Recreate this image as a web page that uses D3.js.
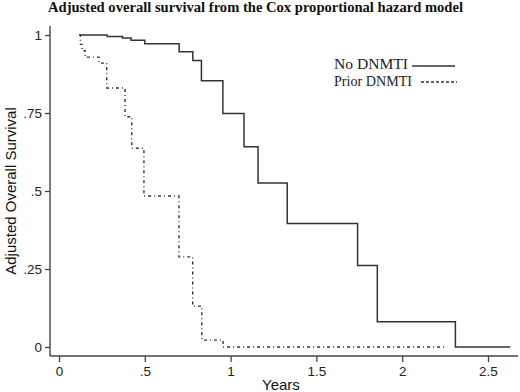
<!DOCTYPE html>
<html>
<head>
<meta charset="utf-8">
<script src="https://cdn.jsdelivr.net/npm/d3@7/dist/d3.min.js"></script>
<style>
  body { margin: 0; background: #fff; }
  svg { display: block; }
</style>
</head>
<body>
<div id="chart"></div>
<script>
// survival step data
const noDnmtiYears = [0.12, 0.28, 0.37, 0.42, 0.50, 0.70, 0.78, 0.83, 0.955, 1.078, 1.16, 1.33, 1.74, 1.855, 2.31, 2.63]
const noDnmtiSurv  = [1.0, 0.995, 0.99, 0.983, 0.972, 0.946, 0.918, 0.853, 0.748, 0.642, 0.526, 0.396, 0.261, 0.081, 0.0, 0.0]

const priorYears = [0.117, 0.125, 0.134, 0.152, 0.233, 0.278, 0.385, 0.424, 0.495, 0.699, 0.779, 0.832, 0.956, 2.25]
const priorSurv  = [1.0, 0.97, 0.95, 0.929, 0.91, 0.83, 0.738, 0.637, 0.484, 0.289, 0.131, 0.022, 0.0, 0.0]

const xTicks = [0, 0.5, 1, 1.5, 2, 2.5]
const yTicks = [0, 0.25, 0.5, 0.75, 1]
const legendLabels = ["No DNMTI", "Prior DNMTI"]

const width = 520, height = 392
const axisX = 50, axisY = 356

const svg = d3.select("#chart").append("svg")
    .attr("width", width)
    .attr("height", height)

const xScale = d3.scaleLinear().domain([0, 2.5]).range([59, 488])
const yScale = d3.scaleLinear().domain([0, 1]).range([347, 35])

const fmt = d => d === 0 ? "0" : String(d).replace(/^0/, "")

// title
svg.append("text")
    .attr("x", 48).attr("y", 12)
    .attr("font-family", "Liberation Serif, Times New Roman, serif")
    .attr("font-weight", "bold")
    .attr("font-size", 15)
    .attr("textLength", 415)
    .attr("lengthAdjust", "spacingAndGlyphs")
    .attr("fill", "#111")
    .text("Adjusted overall survival from the Cox proportional hazard model")

// axis lines
svg.append("line")
    .attr("x1", axisX).attr("x2", axisX).attr("y1", 26).attr("y2", axisY)
    .attr("stroke", "#444").attr("stroke-width", 1.4)
svg.append("line")
    .attr("x1", axisX).attr("x2", 518).attr("y1", axisY).attr("y2", axisY)
    .attr("stroke", "#444").attr("stroke-width", 1.4)

// axes
const yAxis = svg.append("g")
    .attr("transform", `translate(${axisX},0)`)
    .call(d3.axisLeft(yScale).tickValues(yTicks).tickFormat(fmt).tickSize(5).tickSizeOuter(0).tickPadding(3))
const xAxis = svg.append("g")
    .attr("transform", `translate(0,${axisY})`)
    .call(d3.axisBottom(xScale).tickValues(xTicks).tickFormat(fmt).tickSize(6).tickSizeOuter(0).tickPadding(4))

svg.selectAll(".domain").remove()
svg.selectAll(".tick line").attr("stroke", "#444").attr("stroke-width", 1.3)
svg.selectAll(".tick text")
    .attr("font-family", "Liberation Sans, Arial, sans-serif")
    .attr("font-size", 13.5)
    .attr("fill", "#222")

// axis titles
svg.append("text")
    .attr("transform", "translate(16,191) rotate(-90)")
    .attr("text-anchor", "middle")
    .attr("font-family", "Liberation Sans, Arial, sans-serif")
    .attr("font-size", 15)
    .attr("fill", "#111")
    .text("Adjusted Overall Survival")
svg.append("text")
    .attr("x", 262).attr("y", 390)
    .attr("font-family", "Liberation Sans, Arial, sans-serif")
    .attr("font-size", 15)
    .attr("fill", "#111")
    .text("Years")

// step curves
const line = d3.line()
    .x(d => xScale(d[0]))
    .y(d => yScale(d[1]))
    .curve(d3.curveStepAfter)

svg.append("path")
    .datum(d3.zip(noDnmtiYears, noDnmtiSurv))
    .attr("d", line)
    .attr("fill", "none")
    .attr("stroke", "#333")
    .attr("stroke-width", 1.5)

svg.append("path")
    .datum(d3.zip(priorYears, priorSurv))
    .attr("d", line)
    .attr("fill", "none")
    .attr("stroke", "#333")
    .attr("stroke-width", 1.4)
    .attr("stroke-dasharray", "3,3,1,3")

// legend
const legendWidths = [74, 78]
const legend = svg.append("g")
legendLabels.forEach((lab, i) => {
    legend.append("text")
        .attr("x", 334).attr("y", 69 + i * 17)
        .attr("font-family", "Liberation Serif, Times New Roman, serif")
        .attr("font-size", 15)
        .attr("textLength", legendWidths[i])
        .attr("lengthAdjust", "spacingAndGlyphs")
        .attr("fill", "#222")
        .text(lab)
    legend.append("line")
        .attr("x1", i === 0 ? 412 : 421).attr("x2", i === 0 ? 455 : 457)
        .attr("y1", 66 + i * 16).attr("y2", 66 + i * 16)
        .attr("stroke", "#333")
        .attr("stroke-width", 1.3)
        .attr("stroke-dasharray", i === 0 ? null : "3,2")
})
</script>
</body>
</html>
